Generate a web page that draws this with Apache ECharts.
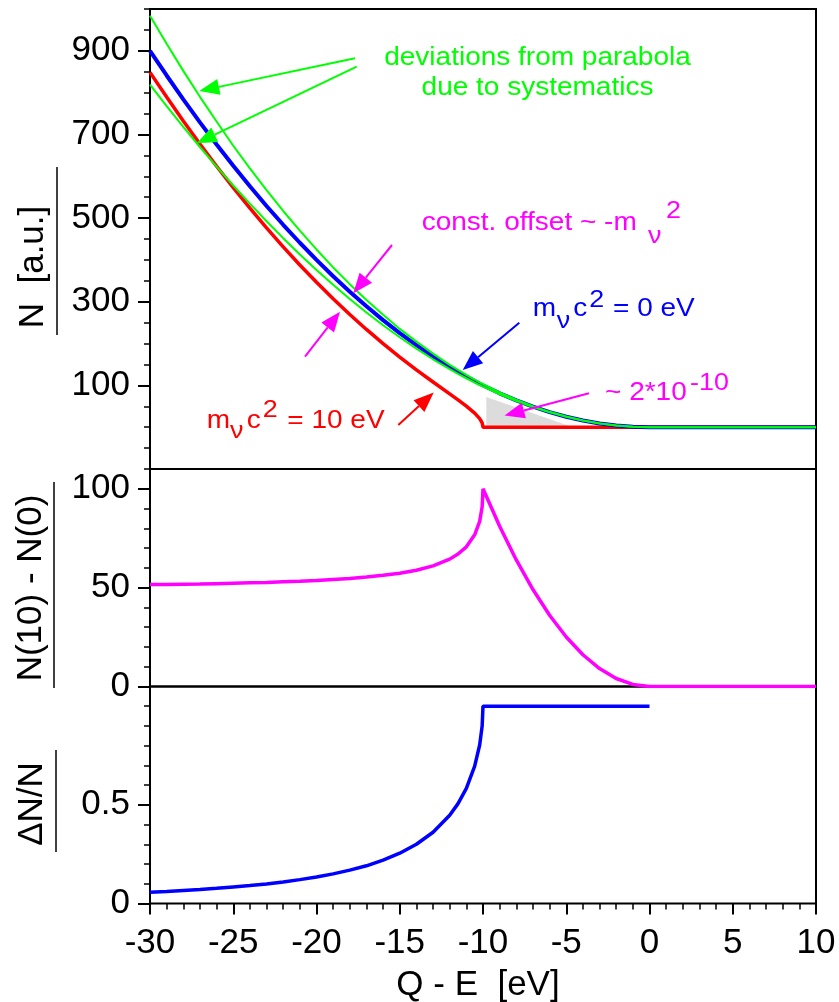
<!DOCTYPE html>
<html>
<head>
<meta charset="utf-8">
<style>
  html, body { margin: 0; padding: 0; background: #fff; }
  #main { width: 839px; height: 1002px; }
</style>
<script src="https://cdn.jsdelivr.net/npm/echarts@6/dist/echarts.min.js"></script>
</head>
<body>
<div id="main"></div>
<script>
const FONT = '"Liberation Sans", Arial, sans-serif';

// Q - E in eV
const qe = [-30, -29, -28, -27, -26, -25, -24, -23, -22, -21, -20, -19, -18, -17, -16, -15, -14, -13, -12, -11.5,
            -11, -10.5, -10.2, -10.05, -10, -9, -8, -7, -6, -5, -4, -3, -2, -1, 0, 1, 2, 3, 4, 5, 6, 7, 8, 9, 10];

// top panel: spectra N [a.u.]
const nZero = [900, 841, 784, 729, 676, 625, 576, 529, 484, 441, 400, 361, 324, 289, 256, 225, 196, 169, 144, 132.3,
               121, 110.3, 104, 101, 100, 81, 64, 49, 36, 25, 16, 9, 4, 1, 0, 0, 0, 0, 0, 0, 0, 0, 0, 0, 0];
const nTen = [848.5, 789.4, 732.3, 677.2, 624, 572.8, 523.6, 476.4, 431.1, 387.8, 346.4, 306.9, 269.4, 233.7, 199.8, 167.7, 137.2, 108, 79.6, 65.3,
              50.4, 33.6, 20.5, 10.1, 0, 0, 0, 0, 0, 0, 0, 0, 0, 0, 0, 0, 0, 0, 0, 0, 0, 0, 0, 0, 0];
const nSysHigh = [984, 917, 852, 790, 731, 673, 619, 567, 517, 470, 425, 382, 342, 304, 269, 235, 204.5, 176, 149, 137,
                  125, 114, 107, 104, 103, 83, 65.6, 50, 36.7, 25.4, 16.2, 9.1, 4, 1, 0, 0, 0, 0, 0, 0, 0, 0, 0, 0, 0];
const nSysLow = [819, 768, 718, 670, 623, 578, 534.5, 492.5, 452, 413, 376, 340.4, 306.5, 274.3, 243.7, 215, 188, 162.4, 138.8, 127.7,
                 117, 106.8, 100.8, 98, 97, 78.8, 62.5, 48, 35.4, 24.6, 15.8, 8.9, 4, 1, 0, 0, 0, 0, 0, 0, 0, 0, 0, 0, 0];

// middle panel: N(10) - N(0)
const nDiff = [51.5, 51.6, 51.7, 51.8, 52, 52.2, 52.4, 52.6, 52.9, 53.2, 53.6, 54.1, 54.6, 55.3, 56.2, 57.3, 58.8, 61, 64.4, 67,
               70.6, 76.7, 83.5, 90.9, 100, 81, 64, 49, 36, 25, 16, 9, 4, 1, 0, 0, 0, 0, 0, 0, 0, 0, 0, 0, 0];

// bottom panel: dN/N (undefined above the endpoint)
const nRatio = [0.057, 0.061, 0.066, 0.071, 0.077, 0.084, 0.091, 0.099, 0.109, 0.121, 0.134, 0.150, 0.169, 0.191, 0.220, 0.255, 0.300, 0.361, 0.447, 0.506,
                0.583, 0.696, 0.803, 0.900, 1, 1, 1, 1, 1, 1, 1, 1, 1, 1, 1, null, null, null, null, null, null, null, null, null, null];

// grey wedge near the endpoint
const shadeX = [-9.8, -4.6];
const shadeY = [72, 0];

// tick labels
const topLabels = [100, 300, 500, 700, 900];
const midLabels = [0, 50, 100];
const botLabels = [0, 0.5];

let myChart = echarts.init(document.getElementById('main'));

function pairs(ys) {
    return qe.map((x, i) => [x, ys[i]]);
}

const rects = [
    { left: 150, top: 9, width: 666, height: 460 },
    { left: 150, top: 469, width: 666, height: 217.4 },
    { left: 150, top: 686.4, width: 666, height: 217.1 }
];

let grids = [];
rects.forEach(r => grids.push(Object.assign({ show: true, borderColor: '#000', borderWidth: 2, backgroundColor: 'transparent' }, r)));
// overlay grids, only used to carry the minor y ticks
rects.forEach(r => grids.push(Object.assign({ show: false }, r)));

function xAx(i, visible) {
    return {
        type: 'value', gridIndex: i, min: -30, max: 10, interval: 5, show: i < 3,
        axisLine: { show: false, onZero: false }, splitLine: { show: false },
        axisTick: { show: visible, length: 11, lineStyle: { color: '#000', width: 2 } },
        minorTick: { show: visible, splitNumber: 5, length: 6, lineStyle: { color: '#000', width: 1.5 } },
        axisLabel: { show: visible, fontSize: 35, fontFamily: FONT, color: '#000', margin: 22 }
    };
}

function yMain(i, min, max, vals) {
    return {
        type: 'value', gridIndex: i, min: min, max: max, position: 'left',
        axisLine: { show: false, onZero: false }, splitLine: { show: false },
        axisTick: { length: 12, customValues: vals, lineStyle: { color: '#000', width: 2 } },
        axisLabel: { customValues: vals, fontSize: 35, fontFamily: FONT, color: '#000', margin: 20, padding: [7, 0, 0, 0] }
    };
}

function yMinor(i, min, max, step) {
    return {
        type: 'value', gridIndex: i, min: min, max: max, interval: step, position: 'left',
        axisLine: { show: false, onZero: false }, splitLine: { show: false },
        axisTick: { length: 6, lineStyle: { color: '#000', width: 1.5 } },
        axisLabel: { show: false }
    };
}

function line(name, xi, data, color, width, z) {
    return {
        type: 'line', name: name, xAxisIndex: xi, yAxisIndex: xi, data: data,
        symbol: 'none', color: color, lineStyle: { color: color, width: width }, z: z, silent: true
    };
}

// arrow = shaft + filled head, in pixels
function arrow(x1, y1, x2, y2, color) {
    let dx = x2 - x1, dy = y2 - y1;
    let len = Math.sqrt(dx * dx + dy * dy);
    let ux = dx / len, uy = dy / len;
    let hl = 20, hw = 8;
    let bx = x2 - ux * hl, by = y2 - uy * hl;
    return [
        { type: 'line', z: 100, shape: { x1: x1, y1: y1, x2: bx, y2: by }, style: { stroke: color, lineWidth: 2 } },
        { type: 'polygon', z: 100, shape: { points: [[x2, y2], [bx - uy * hw, by + ux * hw], [bx + uy * hw, by - ux * hw]] }, style: { fill: color } }
    ];
}

// text piece placed by its baseline
const SX = 1.12;
function txt(x, base, text, color, size, align) {
    return {
        type: 'text', z: 100, x: x, y: base - 0.3465 * size, scaleX: SX,
        style: { text: text, fill: color, font: size + 'px ' + FONT, align: align || 'left', verticalAlign: 'middle' }
    };
}

function yTitle(cx, cy, text, lx, ly1, ly2) {
    return [
        { type: 'text', z: 100, x: cx, y: cy, rotation: Math.PI / 2,
          style: { text: text, fill: '#000', font: '35px ' + FONT, align: 'center', verticalAlign: 'middle' } },
        { type: 'line', z: 100, shape: { x1: lx, y1: ly1, x2: lx, y2: ly2 }, style: { stroke: '#000', lineWidth: 1.5 } }
    ];
}

const GREEN = '#00ff00', MAG = '#ff00ff', BLUE = '#0000ff', RED = '#ff0000';

let graphics = [].concat(
    yTitle(33, 267, 'N  [a.u.]', 57, 167, 335),
    yTitle(31, 588, 'N(10) - N(0)', 54, 482, 688),
    yTitle(32, 804, '\u0394N/N', 56, 750, 852),
    [{ type: 'text', z: 100, x: 478, y: 985,
       style: { text: 'Q - E  [eV]', fill: '#000', font: '35px ' + FONT, align: 'center', verticalAlign: 'middle' } }],

    [txt(537.5, 67, 'deviations from parabola', GREEN, 25, 'center'),
     txt(537.5, 96.5, 'due to systematics', GREEN, 25, 'center')],
    arrow(355, 58.3, 199.3, 91, GREEN),
    arrow(356.7, 66.7, 196.7, 143.3, GREEN),

    [txt(421.7, 231.7, 'const. offset ~ -m', MAG, 25),
     txt(648, 245, '\u03bd', MAG, 24),
     txt(666, 220, '2', MAG, 24)],
    arrow(392, 245, 353.3, 293.3, MAG),
    arrow(305, 356.7, 340, 311.7, MAG),

    [txt(532.7, 317.3, 'm', BLUE, 25),
     txt(556.7, 330, '\u03bd', BLUE, 24),
     txt(573.3, 317.3, 'c', BLUE, 25),
     txt(589.3, 308.3, '2', BLUE, 24),
     txt(613, 317.3, '= 0 eV', BLUE, 25)],
    arrow(519.3, 322.7, 462.7, 370, BLUE),

    [txt(605, 401.7, '~ 2*10', MAG, 25),
     txt(690, 391.7, '-10', MAG, 24)],
    arrow(589, 393.3, 504.5, 415.5, MAG),

    [txt(206.7, 429.3, 'm', RED, 25),
     txt(230, 440, '\u03bd', RED, 24),
     txt(246.7, 429.3, 'c', RED, 25),
     txt(262.7, 418.3, '2', RED, 24),
     txt(287.3, 429.3, '= 10 eV', RED, 25)],
    arrow(398.3, 425, 433.7, 392.5, RED)
);

let option = {
    animation: false,
    backgroundColor: '#fff',
    grid: grids,
    xAxis: [xAx(0, false), xAx(1, false), xAx(2, true), xAx(3, false), xAx(4, false), xAx(5, false)],
    yAxis: [
        yMain(0, -100, 1000, topLabels),
        yMain(1, 0, 110, midLabels),
        yMain(2, 0, 1.1, botLabels),
        yMinor(3, -100, 1000, 50),
        yMinor(4, 0, 110, 10),
        yMinor(5, 0, 1.1, 0.1)
    ],
    series: [
        {
            type: 'line', name: 'shade', xAxisIndex: 0, yAxisIndex: 0,
            data: shadeX.map((x, i) => [x, shadeY[i]]),
            symbol: 'none', lineStyle: { width: 0 }, areaStyle: { color: '#dcdcdc', opacity: 1 }, z: 1, silent: true
        },
        line('m=10', 0, pairs(nTen), RED, 3.5, 3),
        line('m=0', 0, pairs(nZero), BLUE, 4, 4),
        line('sys high', 0, pairs(nSysHigh), GREEN, 2, 5),
        line('sys low', 0, pairs(nSysLow), GREEN, 2, 5),
        line('diff', 1, pairs(nDiff), MAG, 3.5, 3),
        line('ratio', 2, pairs(nRatio), BLUE, 3.5, 3)
    ],
    graphic: { elements: graphics }
};
myChart.setOption(option);
</script>
</body>
</html>
